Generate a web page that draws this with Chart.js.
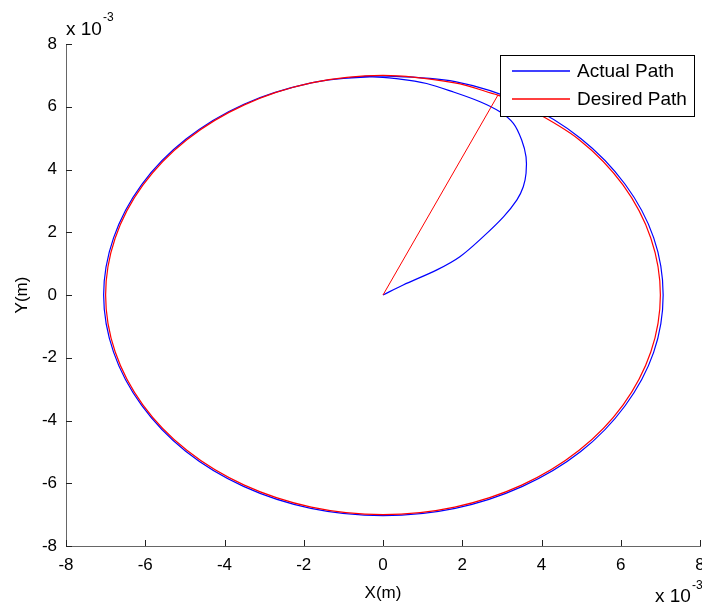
<!DOCTYPE html>
<html>
<head>
<meta charset="utf-8">
<script src="https://cdn.jsdelivr.net/npm/chart.js@4"></script>
<style>
  body { margin: 0; background: #fff; }
  #wrap { width: 702px; height: 604px; }
</style>
</head>
<body>
<div id="wrap"><canvas id="pathChart" width="702" height="604"></canvas></div>
<script>
// values are in units of 10^-3 m (the axes carry the "x 10^-3" factor)
var seriesNames = ["Actual Path", "Desired Path"];
var seriesColors = ["#0000ff", "#ff0000"];
var tickValues = [-8, -6, -4, -2, 0, 2, 4, 6, 8];

var actualX = [0, 0.51, 1.36, 1.94, 2.53, 3.04, 3.38, 3.54, 3.61, 3.61, 3.50, 3.29, 2.95, 2.45, 1.78, 1.10, 0.43, -0.33,
  -1.81, -3.51, -4.97, -6.09, -6.80, -7.05, -6.80, -6.09, -4.98, -3.52, -1.82, 0, 1.82, 3.52, 4.99, 6.11, 6.83, 7.07,
  6.83, 6.11, 4.99, 3.53, 1.82, 0, -0.85];
var actualY = [0, 0.32, 0.80, 1.22, 1.86, 2.49, 3.03, 3.45, 3.88, 4.40, 4.94, 5.47, 5.84, 6.16, 6.47, 6.74, 6.88, 6.95,
  6.76, 6.08, 4.97, 3.52, 1.82, 0, -1.82, -3.52, -4.98, -6.10, -6.80, -7.03, -6.80, -6.10, -4.99, -3.53, -1.83, 0,
  1.83, 3.53, 4.99, 6.11, 6.80, 6.98, 6.93];

var desiredX = [0, 2.90, 1.81, 0, -1.81, -3.50, -4.95, -6.06, -6.76, -7.00, -6.76, -6.06, -4.95, -3.50, -1.81, 0,
  1.81, 3.50, 4.95, 6.06, 6.76, 7.00, 6.76, 6.06, 4.95, 3.50, 2.90];
var desiredY = [0, 6.37, 6.76, 7.00, 6.76, 6.06, 4.95, 3.50, 1.81, 0, -1.81, -3.50, -4.95, -6.06, -6.76, -7.00,
  -6.76, -6.06, -4.95, -3.50, -1.81, 0, 1.81, 3.50, 4.95, 6.06, 6.37];

function toPoints(xs, ys) {
  return xs.map(function (x, i) { return { x: x, y: ys[i] }; });
}

var actualPts = toPoints(actualX, actualY);
var desiredPts = toPoints(desiredX, desiredY);

var fontFamily = "'Liberation Sans', Arial, sans-serif";

var matlabBits = {
  id: "matlabBits",
  afterDraw: function (chart) {
    var ctx = chart.ctx;
    var area = chart.chartArea;
    var xs = chart.scales.x;
    var ys = chart.scales.y;
    ctx.save();

    // inward tick marks
    ctx.strokeStyle = "#222";
    ctx.lineWidth = 1;
    ctx.beginPath();
    tickValues.forEach(function (v) {
      var px = Math.round(xs.getPixelForValue(v)) + 0.5;
      ctx.moveTo(px, area.bottom);
      ctx.lineTo(px, area.bottom - 6);
      var py = Math.round(ys.getPixelForValue(v)) + 0.5;
      ctx.moveTo(area.left, py);
      ctx.lineTo(area.left + 6, py);
    });
    ctx.stroke();

    // exponent labels
    ctx.fillStyle = "#000";
    ctx.textBaseline = "alphabetic";
    ctx.textAlign = "left";
    ctx.font = "19px " + fontFamily;
    ctx.fillText("x 10", 66, 35);
    ctx.fillText("x 10", 655, 602);
    ctx.font = "12px " + fontFamily;
    ctx.fillText("-3", 103, 21);
    ctx.fillText("-3", 692, 589);

    // legend box
    var bx = 500, by = 55, bw = 194, bh = 61;
    ctx.fillStyle = "#fff";
    ctx.fillRect(bx, by, bw, bh);
    ctx.strokeStyle = "#000";
    ctx.lineWidth = 1;
    ctx.strokeRect(bx + 0.5, by + 0.5, bw, bh);
    ctx.font = "19px " + fontFamily;
    ctx.textBaseline = "middle";
    seriesNames.forEach(function (name, i) {
      var ly = by + 16 + i * 28;
      ctx.strokeStyle = seriesColors[i];
      ctx.lineWidth = 1.3;
      ctx.beginPath();
      ctx.moveTo(512, ly);
      ctx.lineTo(570, ly);
      ctx.stroke();
      ctx.fillStyle = "#000";
      ctx.fillText(name, 577, ly + 1);
    });
    ctx.restore();
  }
};

new Chart("pathChart", {
  type: "scatter",
  data: {
    datasets: [{
      label: seriesNames[0],
      data: actualPts,
      borderColor: seriesColors[0],
      borderWidth: 1.2,
      showLine: true,
      pointRadius: 0,
      tension: 0.33,
      order: 3
    },
    {
      label: seriesNames[1],
      data: desiredPts.slice(1),
      borderColor: seriesColors[1],
      borderWidth: 1.2,
      showLine: true,
      pointRadius: 0,
      tension: 0.33,
      order: 1
    },
    {
      label: seriesNames[1] + " start",
      data: desiredPts.slice(0, 2),
      borderColor: seriesColors[1],
      borderWidth: 1,
      showLine: true,
      pointRadius: 0,
      tension: 0,
      order: 2
    }]
  },
  options: {
    responsive: false,
    animation: false,
    layout: {
      padding: { top: 44, right: 2, left: 0, bottom: 0 }
    },
    plugins: {
      legend: { display: false },
      tooltip: { enabled: false }
    },
    scales: {
      x: {
        type: "linear",
        min: -8,
        max: 8,
        afterBuildTicks: function (scale) {
          scale.ticks = tickValues.map(function (v) { return { value: v }; });
        },
        afterFit: function (scale) {
          scale.height = 58;
          scale.paddingLeft = 0;
          scale.paddingRight = 0;
        },
        ticks: {
          color: "#000",
          padding: 9,
          maxRotation: 0,
          font: { family: fontFamily, size: 17 }
        },
        grid: { drawOnChartArea: false, drawTicks: false },
        border: { display: true, color: "#666", width: 1 },
        title: {
          display: true,
          text: "X(m)",
          color: "#000",
          padding: { top: 0, bottom: 0 },
          font: { family: fontFamily, size: 17 }
        }
      },
      y: {
        type: "linear",
        min: -8,
        max: 8,
        afterBuildTicks: function (scale) {
          scale.ticks = tickValues.map(function (v) { return { value: v }; });
        },
        afterFit: function (scale) {
          scale.width = 66;
        },
        ticks: {
          color: "#000",
          padding: 9,
          font: { family: fontFamily, size: 17 }
        },
        grid: { drawOnChartArea: false, drawTicks: false },
        border: { display: true, color: "#666", width: 1 },
        title: {
          display: true,
          text: "Y(m)",
          color: "#000",
          padding: { top: 12, bottom: 0 },
          font: { family: fontFamily, size: 17 }
        }
      }
    }
  },
  plugins: [matlabBits]
});
</script>
</body>
</html>
